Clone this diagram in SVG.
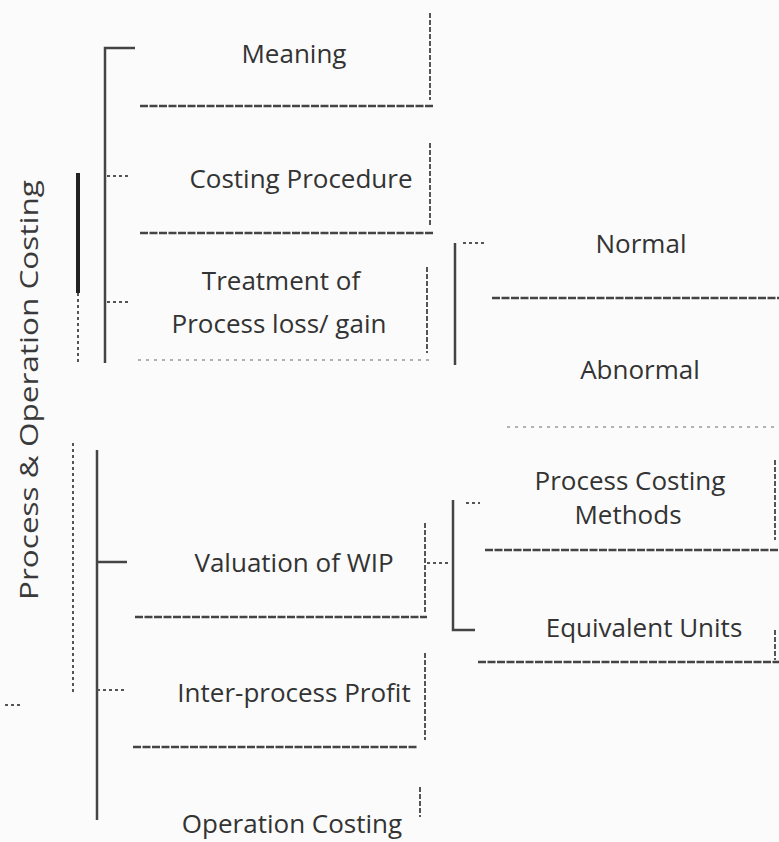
<svg xmlns="http://www.w3.org/2000/svg" width="779" height="842" viewBox="0 0 779 842">
<style>
.t{font-family:"Open Sans","Noto Sans","DejaVu Sans",sans-serif;font-size:26px;fill:#333;text-anchor:middle}
.title{font-family:"Open Sans","Noto Sans","DejaVu Sans",sans-serif;font-size:25px;fill:#3a3a3a;text-anchor:middle}
.rule{stroke:#444;stroke-width:2.5;fill:none;stroke-dasharray:8 1.5}
.edge{stroke:#555;stroke-width:2;fill:none;stroke-dasharray:5 2}
.faint{stroke:#999;stroke-width:1.5;fill:none;stroke-dasharray:3 5}
.c{stroke:#444;stroke-width:2.5;fill:none}
.cd{stroke:#555;stroke-width:2;fill:none;stroke-dasharray:3 3}
.thick{stroke:#222;stroke-width:4;fill:none}
</style>
<rect width="779" height="842" fill="#fbfbfb"/>
<g id="title">
<text class="title" transform="translate(38,390) rotate(-90)" textLength="420" lengthAdjust="spacingAndGlyphs">Process &amp; Operation Costing</text>
</g>
<g id="connectors">
<line class="thick" x1="78" y1="173" x2="78" y2="293"/>
<line class="cd" x1="78" y1="293" x2="78" y2="362"/>
<line class="cd" x1="73" y1="443" x2="73" y2="693"/>
<polyline class="c" points="135,48 105,48 105,363"/>
<line class="cd" x1="107" y1="176" x2="128" y2="176"/>
<line class="cd" x1="107" y1="302" x2="128" y2="302"/>
<line class="c" x1="97" y1="450" x2="97" y2="820"/>
<line class="c" x1="97" y1="562" x2="127" y2="562"/>
<line class="cd" x1="97" y1="690" x2="124" y2="690"/>
<line class="cd" x1="463" y1="243" x2="485" y2="243"/>
<line class="c" x1="455" y1="243" x2="455" y2="365"/>
<line class="cd" x1="427" y1="563" x2="451" y2="563"/>
<polyline class="c" points="453,500 453,630 475,630"/>
<line class="cd" x1="466" y1="503" x2="480" y2="503"/>
<line class="cd" x1="5" y1="705" x2="22" y2="705"/>
</g>
<g id="meaning">
<text class="t" x="294" y="63">Meaning</text>
<line class="rule" x1="140" y1="106" x2="433" y2="106"/>
<line class="edge" x1="430" y1="13" x2="430" y2="100"/>
</g>
<g id="costing-procedure">
<text class="t" x="301" y="188">Costing Procedure</text>
<line class="rule" x1="140" y1="233" x2="433" y2="233"/>
<line class="edge" x1="430" y1="143" x2="430" y2="227"/>
</g>
<g id="treatment">
<text class="t" x="281" y="290">Treatment of</text>
<text class="t" x="279" y="333">Process loss/ gain</text>
<line class="faint" x1="138" y1="360" x2="430" y2="360"/>
<line class="edge" x1="427" y1="267" x2="427" y2="353"/>
</g>
<g id="normal">
<text class="t" x="641" y="253">Normal</text>
<line class="rule" x1="492" y1="298" x2="779" y2="298"/>
</g>
<g id="abnormal">
<text class="t" x="640" y="379">Abnormal</text>
<line class="faint" x1="507" y1="427" x2="779" y2="427"/>
</g>
<g id="process-costing-methods">
<text class="t" x="630" y="490">Process Costing</text>
<text class="t" x="628" y="524">Methods</text>
<line class="rule" x1="485" y1="550" x2="779" y2="550"/>
<line class="edge" x1="775" y1="460" x2="775" y2="540"/>
</g>
<g id="equivalent-units">
<text class="t" x="644" y="637">Equivalent Units</text>
<line class="rule" x1="478" y1="662" x2="779" y2="662"/>
<line class="edge" x1="775" y1="630" x2="775" y2="660"/>
</g>
<g id="valuation-wip">
<text class="t" x="294" y="572">Valuation of WIP</text>
<line class="rule" x1="135" y1="617" x2="427" y2="617"/>
<line class="edge" x1="425" y1="523" x2="425" y2="612"/>
</g>
<g id="inter-process-profit">
<text class="t" x="294" y="702">Inter-process Profit</text>
<line class="rule" x1="133" y1="747" x2="418" y2="747"/>
<line class="edge" x1="425" y1="653" x2="425" y2="740"/>
</g>
<g id="operation-costing">
<text class="t" x="292" y="833" fill="#555">Operation Costing</text>
<line class="edge" x1="420" y1="787" x2="420" y2="817"/>
</g>
</svg>
